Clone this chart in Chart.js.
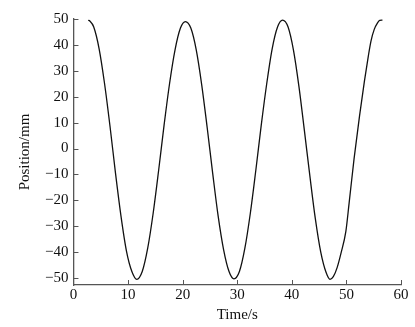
<!DOCTYPE html>
<html>
<head>
<meta charset="utf-8">
<script src="https://cdn.jsdelivr.net/npm/chart.js@4"></script>
<style>
  html, body { margin: 0; padding: 0; background: #fff; }
  #wrap { width: 415px; height: 327px; }
</style>
</head>
<body>
<div id="wrap"><canvas id="grafico" width="415" height="327"></canvas></div>
<script>
// values
const timeS = [2.7, 3.0, 3.7, 4.7, 5.7, 6.7, 7.7, 8.7, 9.7, 10.7, 11.6,
  12.6, 13.6, 14.6, 15.6, 16.6, 17.6, 18.6, 19.6, 20.5,
  21.5, 22.5, 23.5, 24.5, 25.5, 26.5, 27.5, 28.5, 29.4,
  30.4, 31.4, 32.4, 33.4, 34.4, 35.4, 36.4, 37.4, 38.3,
  39.3, 40.3, 41.3, 42.3, 43.3, 44.3, 45.3, 46.3, 47.0,
  47.6, 48.3, 49.0, 49.9, 50.5, 51.4, 52.4, 53.3, 54.0, 54.5, 55.1, 55.7, 56.1, 56.6];
const positionMm = [49.5, 49.2, 47, 38.5, 25, 8.5, -9.5, -26, -39.5, -47.5, -50.5,
  -47.5, -38.5, -25, -8.5, 9, 25, 38, 46.5, 49,
  46.5, 38, 24.5, 8, -9.5, -26, -39, -47.5, -50.3,
  -47.5, -38.5, -25, -8.5, 9, 25, 38.5, 47, 49.6,
  47, 38, 24, 7, -10.5, -27, -40, -48, -50.5,
  -49.5, -46, -40.5, -32, -21, -4, 12.5, 26, 35.5, 41.5, 46, 48.5, 49.5, 49.6];
const xTicks = [0, 10, 20, 30, 40, 50, 60];
const yTicks = [-50, -40, -30, -20, -10, 0, 10, 20, 30, 40, 50];

const fontFam = '"Liberation Serif", "Times New Roman", serif';
const axisColor = '#555';

function minusLabel(v) {
  return v < 0 ? '\u2212' + Math.abs(v) : String(v);
}

// tick marks point into the plot area
const innerTicks = {
  id: 'innerTicks',
  afterDraw(chart) {
    const ctx = chart.ctx;
    const xs = chart.scales.x, ys = chart.scales.y;
    ctx.save();
    ctx.strokeStyle = axisColor;
    ctx.lineWidth = 1;
    ctx.beginPath();
    xTicks.forEach(v => {
      const px = Math.round(xs.getPixelForValue(v)) + 0.5;
      ctx.moveTo(px, ys.bottom);
      ctx.lineTo(px, ys.bottom - 5);
    });
    yTicks.forEach(v => {
      const py = Math.round(ys.getPixelForValue(v)) + 0.5;
      ctx.moveTo(xs.left, py);
      ctx.lineTo(xs.left + 5, py);
    });
    ctx.stroke();
    ctx.restore();
  }
};

const datos = timeS.map((t, i) => ({ x: t, y: positionMm[i] }));

const config = {
  type: 'line',
  data: {
    datasets: [{
      data: datos,
      borderColor: '#111',
      borderWidth: 1.3,
      pointRadius: 0,
      fill: false,
      cubicInterpolationMode: 'monotone'
    }]
  },
  options: {
    responsive: false,
    animation: false,
    layout: { padding: { left: 16, right: 14, top: 19, bottom: 3 } },
    plugins: { legend: { display: false }, tooltip: { enabled: false } },
    scales: {
      x: {
        type: 'linear',
        min: 0,
        max: 60,
        afterBuildTicks: s => { s.ticks = xTicks.map(v => ({ value: v })); },
        grid: { display: false, drawTicks: false },
        border: { display: true, color: axisColor, width: 1.3 },
        ticks: { color: '#111', padding: 1, font: { family: fontFam, size: 15 } },
        title: { display: true, text: 'Time/s', color: '#111', font: { family: fontFam, size: 15 }, padding: { top: 1, bottom: 0 } }
      },
      y: {
        type: 'linear',
        min: -52.7,
        max: 50,
        afterBuildTicks: s => { s.ticks = yTicks.map(v => ({ value: v })); },
        grid: { display: false, drawTicks: false },
        border: { display: true, color: axisColor, width: 1.3 },
        ticks: { color: '#111', padding: 5, font: { family: fontFam, size: 15 }, callback: v => minusLabel(v) },
        title: { display: true, text: 'Position/mm', color: '#111', font: { family: fontFam, size: 15 }, padding: { top: 0, bottom: 6 } }
      }
    }
  },
  plugins: [innerTicks]
};

const ctx = document.getElementById('grafico').getContext('2d');
const chart = new Chart(ctx, config);
</script>
</body>
</html>
